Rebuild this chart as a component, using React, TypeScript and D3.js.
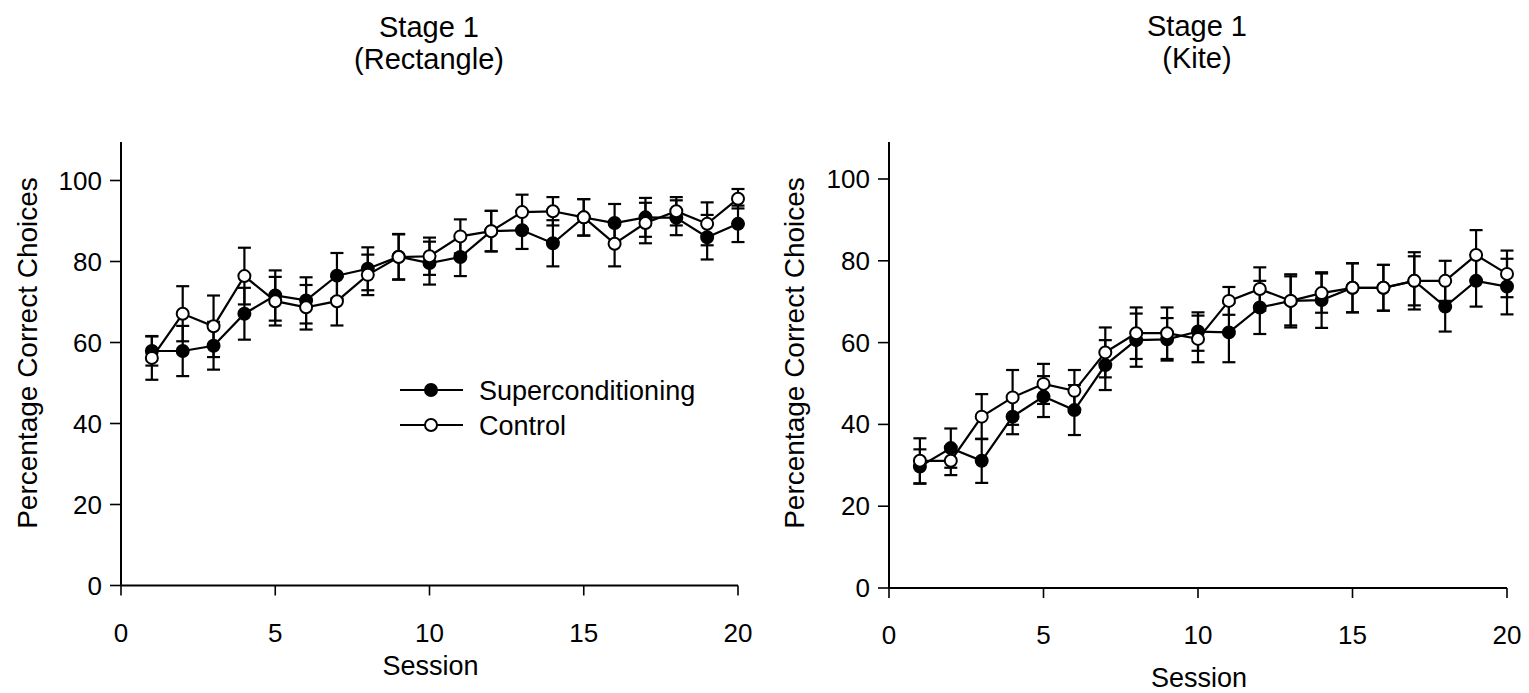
import React, { useRef, useEffect } from 'react';
import * as d3 from 'd3';

// --- Data (percentage correct choices, mean and SE) ---
const sessions = d3.range(1, 21);

const rectSuperMean = [57.9, 57.9, 59.2, 67.1, 71.6, 70.4, 76.5, 78.2, 81.2, 79.6, 81.1, 87.5, 87.7, 84.5, 90.9, 89.5, 90.9, 90.8, 86.0, 89.3];
const rectSuperSE = [3.6, 6.2, 5.9, 6.4, 6.2, 5.7, 5.6, 5.3, 5.6, 5.3, 4.7, 5.0, 4.6, 5.7, 4.5, 4.7, 4.8, 4.3, 5.5, 4.5];
const rectControlMean = [56.2, 67.1, 64.0, 76.4, 70.2, 68.7, 70.2, 76.7, 81.1, 81.3, 86.2, 87.5, 92.2, 92.4, 90.9, 84.4, 89.5, 92.4, 89.3, 95.5];
const rectControlSE = [5.4, 6.8, 7.6, 7.0, 6.0, 5.5, 6.0, 5.0, 5.6, 4.6, 4.2, 5.0, 4.3, 3.5, 4.5, 5.6, 5.0, 3.5, 5.3, 2.4];

const kiteSuperMean = [29.7, 34.2, 31.1, 41.9, 46.8, 43.5, 54.5, 60.6, 60.8, 62.7, 62.5, 68.6, 70.2, 70.4, 73.4, 73.4, 75.1, 68.8, 75.1, 73.7];
const kiteSuperSE = [4.2, 4.8, 5.4, 4.3, 5.0, 6.1, 6.1, 6.5, 5.2, 4.7, 7.3, 6.5, 6.0, 6.8, 6.0, 5.6, 6.0, 6.1, 6.3, 6.8];
const kiteControlMean = [31.1, 31.1, 41.9, 46.6, 49.9, 48.2, 57.6, 62.3, 62.3, 60.9, 70.2, 73.1, 70.2, 72.1, 73.4, 73.4, 75.1, 75.1, 81.4, 76.8];
const kiteControlSE = [5.5, 3.5, 5.5, 6.7, 4.9, 5.1, 6.1, 6.3, 6.3, 5.7, 3.4, 5.3, 6.5, 4.8, 6.0, 5.6, 7.0, 4.9, 6.1, 5.7];

const xTicks = [0, 5, 10, 15, 20];
const yTicks = [0, 20, 40, 60, 80, 100];
const legendLabels = ['Superconditioning', 'Control'];

const FONT = '"Liberation Sans", Arial, Helvetica, sans-serif';

type Panel = {
    title: string[];
    superMean: number[];
    superSE: number[];
    controlMean: number[];
    controlSE: number[];
    x0: number; x1: number;   // pixel extent of x axis
    y0: number; y100: number; // pixel positions of 0 and 100
    yTop: number;             // top of y axis line
    titleX: number;
    titleY: number;
    labelX: number;           // baseline x of rotated y label
    xLabelY: number;
    legend: boolean;
};

const panels: Panel[] = [
    {
        title: ['Stage 1', '(Rectangle)'],
        superMean: rectSuperMean, superSE: rectSuperSE,
        controlMean: rectControlMean, controlSE: rectControlSE,
        x0: 121, x1: 738, y0: 585.5, y100: 180.5, yTop: 142,
        titleX: 429, titleY: 37, labelX: 37, xLabelY: 675, legend: true,
    },
    {
        title: ['Stage 1', '(Kite)'],
        superMean: kiteSuperMean, superSE: kiteSuperSE,
        controlMean: kiteControlMean, controlSE: kiteControlSE,
        x0: 889, x1: 1507, y0: 588, y100: 179, yTop: 142,
        titleX: 1197, titleY: 36, labelX: 804, xLabelY: 687, legend: false,
    },
];

const App = () => {
    const svgRef = useRef<SVGSVGElement>(null);
    const width = 1529;
    const height = 693;

    useEffect(() => {
        if (!svgRef.current) return;
        const svg = d3.select(svgRef.current);
        svg.selectAll('*').remove();

        svg.append('rect').attr('width', width).attr('height', height).attr('fill', '#fff');

        panels.forEach(p => {
            const x = d3.scaleLinear().domain([0, 20]).range([p.x0, p.x1]);
            const y = d3.scaleLinear().domain([0, 100]).range([p.y0, p.y100]);
            const g = svg.append('g');

            // --- Title ---
            p.title.forEach((t, i) => {
                g.append('text')
                    .attr('x', p.titleX)
                    .attr('y', p.titleY + i * 32)
                    .attr('text-anchor', 'middle')
                    .attr('font-family', FONT)
                    .attr('font-size', '29px')
                    .attr('fill', '#000')
                    .text(t);
            });

            // --- Axes ---
            g.append('line')
                .attr('x1', p.x0).attr('x2', p.x0)
                .attr('y1', p.yTop).attr('y2', p.y0)
                .attr('stroke', '#000').attr('stroke-width', 2);
            g.append('line')
                .attr('x1', p.x0).attr('x2', p.x1)
                .attr('y1', p.y0).attr('y2', p.y0)
                .attr('stroke', '#000').attr('stroke-width', 2);

            g.selectAll('.ytick')
                .data(yTicks)
                .enter()
                .append('line')
                .attr('x1', p.x0 - 11).attr('x2', p.x0)
                .attr('y1', d => y(d)).attr('y2', d => y(d))
                .attr('stroke', '#000').attr('stroke-width', 1.6);

            g.selectAll('.ylab')
                .data(yTicks)
                .enter()
                .append('text')
                .attr('x', p.x0 - 19)
                .attr('y', d => y(d) + 9)
                .attr('text-anchor', 'end')
                .attr('font-family', FONT)
                .attr('font-size', '26px')
                .text(d => d);

            g.selectAll('.xtick')
                .data(xTicks)
                .enter()
                .append('line')
                .attr('x1', d => x(d)).attr('x2', d => x(d))
                .attr('y1', p.y0).attr('y2', p.y0 + 10)
                .attr('stroke', '#000').attr('stroke-width', 1.6);

            g.selectAll('.xlab')
                .data(xTicks)
                .enter()
                .append('text')
                .attr('x', d => x(d))
                .attr('y', p.y0 + 56)
                .attr('text-anchor', 'middle')
                .attr('font-family', FONT)
                .attr('font-size', '26px')
                .text(d => d);

            g.append('text')
                .attr('x', (p.x0 + p.x1) / 2 + 1)
                .attr('y', p.xLabelY)
                .attr('text-anchor', 'middle')
                .attr('font-family', FONT)
                .attr('font-size', '27px')
                .text('Session');

            g.append('text')
                .attr('transform', `translate(${p.labelX}, 353) rotate(-90)`)
                .attr('text-anchor', 'middle')
                .attr('font-family', FONT)
                .attr('font-size', '28px')
                .text('Percentage Correct Choices');

            // --- Series ---
            const series = [
                { mean: p.superMean, se: p.superSE, fill: '#000' },
                { mean: p.controlMean, se: p.controlSE, fill: '#fff' },
            ];

            const line = d3.line<number>()
                .x((_, i) => x(sessions[i]))
                .y(d => y(d));

            series.forEach(s => {
                g.append('path')
                    .datum(s.mean)
                    .attr('fill', 'none')
                    .attr('stroke', '#000')
                    .attr('stroke-width', 2.2)
                    .attr('d', line);
            });

            series.forEach(s => {
                s.mean.forEach((m, i) => {
                    const cx = x(sessions[i]);
                    const hi = y(m + s.se[i]);
                    const lo = y(m - s.se[i]);
                    g.append('line')
                        .attr('x1', cx).attr('x2', cx).attr('y1', hi).attr('y2', lo)
                        .attr('stroke', '#000').attr('stroke-width', 2.2);
                    [hi, lo].forEach(cy => {
                        g.append('line')
                            .attr('x1', cx - 6.5).attr('x2', cx + 6.5)
                            .attr('y1', cy).attr('y2', cy)
                            .attr('stroke', '#000').attr('stroke-width', 2.2);
                    });
                });
            });

            series.forEach(s => {
                g.selectAll(null)
                    .data(s.mean)
                    .enter()
                    .append('circle')
                    .attr('cx', (_, i) => x(sessions[i]))
                    .attr('cy', d => y(d))
                    .attr('r', 6)
                    .attr('fill', s.fill)
                    .attr('stroke', '#000')
                    .attr('stroke-width', 2);
            });

            // --- Legend ---
            if (p.legend) {
                legendLabels.forEach((lab, i) => {
                    const ly = 390 + i * 35;
                    g.append('line')
                        .attr('x1', 400).attr('x2', 463).attr('y1', ly).attr('y2', ly)
                        .attr('stroke', '#000').attr('stroke-width', 2.2);
                    g.append('circle')
                        .attr('cx', 431).attr('cy', ly).attr('r', 6)
                        .attr('fill', i === 0 ? '#000' : '#fff')
                        .attr('stroke', '#000').attr('stroke-width', 2);
                    g.append('text')
                        .attr('x', 479)
                        .attr('y', ly + 10)
                        .attr('font-family', FONT)
                        .attr('font-size', '27px')
                        .text(lab);
                });
            }
        });
    }, []);

    return (
        <svg
            ref={svgRef}
            width={width}
            height={height}
            style={{ position: 'absolute', left: 0, top: 0, display: 'block' }}
        />
    );
};

export default App;
